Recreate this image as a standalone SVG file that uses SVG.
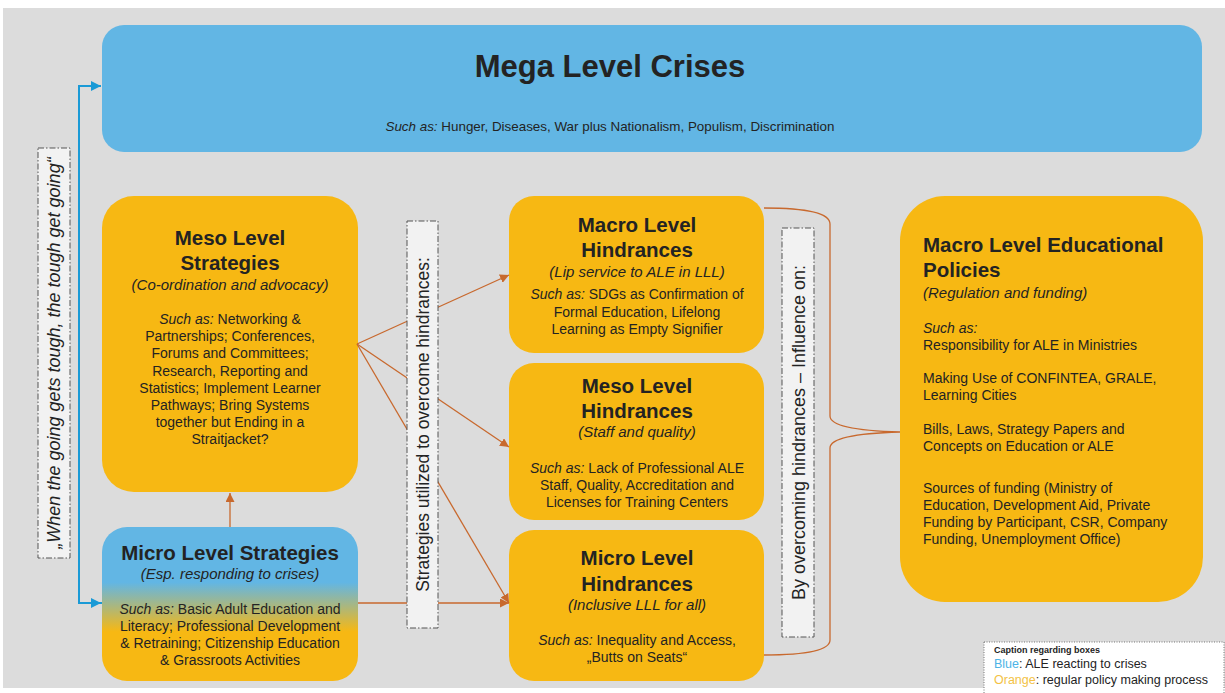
<svg xmlns="http://www.w3.org/2000/svg" width="1225" height="693" viewBox="0 0 1225 693">
<defs>
<style>
text{font-family:"Liberation Sans",Arial,sans-serif;fill:#232323}
.t{font-weight:bold;font-size:20.5px;text-anchor:middle}
.s{font-style:italic;font-size:15px;text-anchor:middle}
.b{font-size:14px;text-anchor:middle}
.bl{font-size:14px}
.i{font-style:italic}
.org{fill:#f7b813}
.blu{fill:#62b6e4}
.lab{fill:#f2f2f2;stroke:#555;stroke-width:1;stroke-dasharray:6 2 1.5 2}
.vt{font-size:18px;text-anchor:middle}
.oc{stroke:#c8692e;stroke-width:1.3;fill:none}
.bc{stroke:#1a9ad6;stroke-width:2;fill:none}
</style>
<marker id="ao" viewBox="0 0 10 10" refX="10" refY="5" markerWidth="9" markerHeight="9" markerUnits="userSpaceOnUse" orient="auto"><path d="M0,0 L10,5 L0,10 z" fill="#c8692e"/></marker>
<marker id="ab" viewBox="0 0 10 10" refX="10" refY="5" markerWidth="10" markerHeight="10" markerUnits="userSpaceOnUse" orient="auto"><path d="M0,0 L10,5 L0,10 z" fill="#1a9ad6"/></marker>
<linearGradient id="gm" x1="0" y1="0" x2="0" y2="1">
<stop offset="0" stop-color="#62b6e4"/>
<stop offset="0.36" stop-color="#62b6e4"/>
<stop offset="0.68" stop-color="#f7b813"/>
<stop offset="1" stop-color="#f7b813"/>
</linearGradient>
</defs>
<rect x="0" y="0" width="1225" height="693" fill="#ffffff"/>
<rect x="3" y="8" width="1222" height="680" fill="#dcdcdc"/>

<g id="mega">
<rect class="blu" x="102" y="25" width="1100" height="127" rx="22"/>
<text x="610" y="77" style="font-weight:bold;font-size:31px;text-anchor:middle">Mega Level Crises</text>
<text x="610" y="131" style="font-size:13.4px;text-anchor:middle"><tspan class="i">Such as:</tspan> Hunger, Diseases, War plus Nationalism, Populism, Discrimination</text>
</g>

<g id="meso-strategies">
<rect class="org" x="102" y="196" width="256" height="296" rx="32"/>
<text class="t" x="230" y="245">Meso Level</text>
<text class="t" x="230" y="270">Strategies</text>
<text class="s" x="230" y="290">(Co-ordination and advocacy)</text>
<text class="b" x="230" y="324"><tspan class="i">Such as:</tspan> Networking &amp;</text>
<text class="b" x="230" y="341.2">Partnerships; Conferences,</text>
<text class="b" x="230" y="358.4">Forums and Committees;</text>
<text class="b" x="230" y="375.6">Research, Reporting and</text>
<text class="b" x="230" y="392.8">Statistics; Implement Learner</text>
<text class="b" x="230" y="410">Pathways; Bring Systems</text>
<text class="b" x="230" y="427.2">together but Ending in a</text>
<text class="b" x="230" y="444.4">Straitjacket?</text>
</g>

<g id="micro-strategies">
<rect x="102" y="527" width="256" height="154" rx="25" fill="url(#gm)"/>
<text class="t" x="230" y="560">Micro Level Strategies</text>
<text class="s" x="230" y="579">(Esp. responding to crises)</text>
<text class="b" x="230" y="614"><tspan class="i">Such as:</tspan> Basic Adult Education and</text>
<text class="b" x="230" y="631">Literacy; Professional Development</text>
<text class="b" x="230" y="648">&amp; Retraining; Citizenship Education</text>
<text class="b" x="230" y="665">&amp; Grassroots Activities</text>
</g>

<g id="macro-hindrances">
<rect class="org" x="509" y="196" width="255" height="157" rx="25"/>
<text class="t" x="637" y="232">Macro Level</text>
<text class="t" x="637" y="257">Hindrances</text>
<text class="s" x="637" y="277">(Lip service to ALE in LLL)</text>
<text class="b" x="637" y="299"><tspan class="i">Such as:</tspan> SDGs as Confirmation of</text>
<text class="b" x="637" y="316.5">Formal Education, Lifelong</text>
<text class="b" x="637" y="334">Learning as Empty Signifier</text>
</g>

<g id="meso-hindrances">
<rect class="org" x="509" y="363" width="255" height="157" rx="25"/>
<text class="t" x="637" y="393">Meso Level</text>
<text class="t" x="637" y="418">Hindrances</text>
<text class="s" x="637" y="437">(Staff and quality)</text>
<text class="b" x="637" y="473"><tspan class="i">Such as:</tspan> Lack of Professional ALE</text>
<text class="b" x="637" y="490">Staff, Quality, Accreditation and</text>
<text class="b" x="637" y="507">Licenses for Training Centers</text>
</g>

<g id="micro-hindrances">
<rect class="org" x="509" y="530" width="255" height="151" rx="25"/>
<text class="t" x="637" y="565">Micro Level</text>
<text class="t" x="637" y="591">Hindrances</text>
<text class="s" x="637" y="610">(Inclusive LLL for all)</text>
<text class="b" x="637" y="645"><tspan class="i">Such as:</tspan> Inequality and Access,</text>
<text class="b" x="637" y="662">„Butts on Seats“</text>
</g>

<g id="macro-policies">
<rect class="org" x="900" y="196" width="303" height="406" rx="45"/>
<text x="923" y="252" style="font-weight:bold;font-size:20.5px">Macro Level Educational</text>
<text x="923" y="277" style="font-weight:bold;font-size:20.5px">Policies</text>
<text x="923" y="298" style="font-style:italic;font-size:15px">(Regulation and funding)</text>
<text class="bl i" x="923" y="333">Such as:</text>
<text class="bl" x="923" y="349.5">Responsibility for ALE in Ministries</text>
<text class="bl" x="923" y="383">Making Use of CONFINTEA, GRALE,</text>
<text class="bl" x="923" y="400">Learning Cities</text>
<text class="bl" x="923" y="434">Bills, Laws, Strategy Papers and</text>
<text class="bl" x="923" y="451">Concepts on Education or ALE</text>
<text class="bl" x="923" y="493">Sources of funding (Ministry of</text>
<text class="bl" x="923" y="510">Education, Development Aid, Private</text>
<text class="bl" x="923" y="527">Funding by Participant, CSR, Company</text>
<text class="bl" x="923" y="544">Funding, Unemployment Office)</text>
</g>

<g id="connectors">
<path class="bc" d="M102,603 H79 V86 H101" marker-end="url(#ab)"/>
<line class="bc" x1="90" y1="603" x2="101" y2="603" marker-end="url(#ab)"/>
<line class="oc" x1="230" y1="527" x2="230" y2="493" marker-end="url(#ao)"/>
<line class="oc" x1="357" y1="344" x2="509" y2="275" marker-end="url(#ao)"/>
<line class="oc" x1="357" y1="344" x2="509" y2="447" marker-end="url(#ao)"/>
<line class="oc" x1="357" y1="344" x2="509" y2="603" marker-end="url(#ao)"/>
<line class="oc" x1="358" y1="603" x2="509" y2="603" marker-end="url(#ao)"/>
<path class="oc" d="M764,208 Q830,208 830,224 L830,416 Q830,430 900,432 Q830,434 830,448 L830,640 Q830,655 764,655"/>
</g>

<g id="label-going">
<rect class="lab" x="38" y="148" width="32" height="410"/>
<text class="vt i" transform="translate(60,353) rotate(-90)" x="0" y="0">„When the going gets tough, the tough get going“</text>
</g>

<g id="label-strategies">
<rect class="lab" x="407" y="221" width="31" height="407"/>
<text class="vt" transform="translate(428.5,424.5) rotate(-90)" x="0" y="0" style="font-size:17.5px">Strategies utilized to overcome hindrances:</text>
</g>

<g id="label-influence">
<rect class="lab" x="782" y="228" width="32" height="409"/>
<text class="vt" transform="translate(804.5,432.5) rotate(-90)" x="0" y="0">By overcoming hindrances – Influence on:</text>
</g>

<g id="caption">
<rect x="984" y="642" width="240" height="53" fill="#ffffff" stroke="#777" stroke-width="1" stroke-dasharray="1 1.5"/>
<text x="994" y="653" style="font-weight:bold;font-size:9px">Caption regarding boxes</text>
<text x="994" y="668" style="font-size:12.5px"><tspan style="fill:#4db3e6">Blue</tspan>: ALE reacting to crises</text>
<text x="994" y="684" style="font-size:12.5px"><tspan style="fill:#f3c246">Orange</tspan>: regular policy making process</text>
</g>
</svg>
